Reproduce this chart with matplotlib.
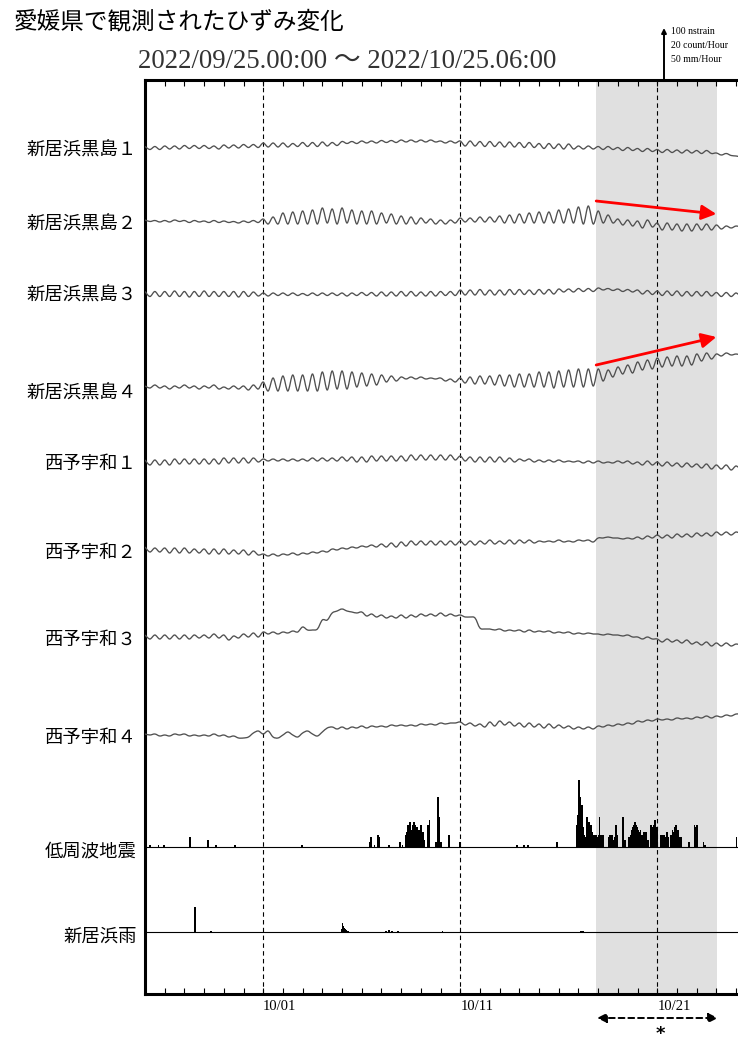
import numpy as np
import matplotlib
matplotlib.use("Agg")
import matplotlib.pyplot as plt
from matplotlib.patches import FancyArrowPatch, PathPatch
from matplotlib.path import Path

plt.rcParams['font.family'] = ['Noto Sans CJK JP', 'DejaVu Sans']

# ---------------------------------------------------------------- data
# Time axis: days since 2022/09/25 00:00, strain sampled every 6 hours
T_END = 30.25
STEP = 0.25

# Strain (nstrain, relative to start of window), 4 samples per day
kurosima1 = [
    3, -3, 3, -3,  4, -2, 4, -2,  5, -1, 5, -1,  5, -1, 4, -2,  6, 0, 6, 0,
    7, 1, 7, 1,  10, 2, 10, 2,  10, 2, 9, 3,  11, 3, 11, 3,  12, 4, 11, 5,
    13, 9, 13, 9,  14, 10, 14, 10,  15, 11, 15, 11,  16, 12, 16, 12,  16, 12, 16, 12,
    14, 10, 14, 10,  14, 4, 14, 4,  13, 3, 13, 3,  12, 2, 12, 2,  11, 1, 11, 1,
    9, -1, 9, -1,  8, -2, 8, -2,  4, -2, 4, -2,  3, -3, 3, -3,  1, -5, 1, -5,
    -1, -7, -1, -7,  -3, -9, -3, -9,  -4, -10, -4, -10,  -5, -11, -5, -11,  -10, -14, -11, -15,
    -16, -18]
kurosima2 = [
    2, -1, 1, -2,  1, -2, 2, -1,  1, -3, 1, -2,  0, -3, 1, -3,  0, -3, -1, -4,
    0, -3, 1, -3,  4, -6, 8, -6,  16, -6, 18, -6,  20, -6, 22, -6,  26, -4, 24, -6,
    26, -4, 22, -6,  20, -6, 20, -6,  16, -4, 14, -6,  10, -6, 8, -6,  6, -4, 4, -6,
    2, -6, 2, -4,  6, -2, 6, -2,  8, -2, 8, -2,  10, -4, 12, -4,  14, -4, 16, -4,
    18, -4, 18, -4,  22, -4, 24, -4,  28, -6, 30, -6,  20, -4, 12, -4,  4, -8, 2, -10,
    0, -14, 2, -12,  -4, -18, -4, -18,  -6, -20, -6, -20,  -6, -18, -6, -18,  -8, -16, -10, -14,
    -10, -12]
kurosima3 = [
    5, -5, 5, -5,  5, -5, 6, -5,  5, -6, 5, -5,  6, -5, 5, -5,  5, -5, 5, -6,
    5, -5, 4, -4,  2, -4, 2, -3,  2, -3, 2, -3,  1, -3, 2, -3,  2, -3, 2, -3,
    2, -4, 2, -3,  3, -3, 3, -4,  4, -4, 4, -4,  5, -4, 5, -4,  4, -4, 5, -4,
    5, -3, 5, -3,  8, -2, 8, -2,  9, -2, 8, -2,  8, -2, 9, -1,  9, -1, 8, -1,
    9, 0, 9, 0,  10, 4, 10, 4,  11, 5, 11, 5,  12, 8, 11, 7,  10, 5, 9, 4,
    8, 0, 7, -1,  6, -3, 6, -3,  6, -4, 5, -4,  5, -4, 5, -4,  3, -5, 3, -5,
    2, -6]
kurosima4 = [
    2, -2, 4, -2,  2, -4, 2, -2,  4, -2, 2, -4,  2, -2, 4, -4,  0, -4, 2, -4,
    2, -6, 4, -4,  10, -8, 18, -8,  22, -8, 24, -8,  24, -8, 26, -8,  30, -6, 32, -4,
    32, -4, 30, 0,  28, 2, 26, 4,  24, 10, 22, 12,  20, 16, 20, 16,  20, 16, 18, 16,
    18, 12, 16, 10,  18, 8, 20, 6,  22, 6, 22, 4,  24, 2, 24, 0,  26, 0, 26, 0,
    30, 0, 30, -2,  32, 0, 34, 0,  36, 0, 36, 2,  36, 12, 34, 20,  40, 26, 44, 28,
    50, 34, 54, 36,  58, 40, 60, 42,  62, 42, 62, 44,  66, 52, 68, 56,  66, 62, 68, 64,
    66, 64]
seiyo1 = [
    4, -6, 4, -6,  4, -6, 6, -4,  6, -4, 6, -4,  6, -4, 6, -4,  8, -2, 8, -2,
    8, -2, 8, 0,  6, 2, 6, 2,  6, 2, 6, 2,  6, 2, 8, 2,  8, 2, 8, 2,
    10, 2, 10, 0,  10, 0, 12, 2,  12, 2, 12, 2,  12, 2, 14, 4,  14, 4, 14, 4,
    14, 4, 14, 4,  12, 2, 10, 0,  10, 0, 10, 0,  10, 0, 8, 0,  6, 2, 6, 0,
    4, 0, 4, 0,  4, 0, 2, 0,  2, -2, 2, -2,  2, -2, 0, -2,  2, -2, 2, -4,
    0, -6, 2, -6,  0, -8, 0, -8,  -2, -10, -2, -10,  -4, -12, -4, -14,  -6, -14, -6, -16,
    -8, -16]
seiyo2 = [
    6, -4, 4, -4,  4, -6, 4, -6,  4, -6, 2, -6,  2, -8, 2, -8,  2, -8, 0, -8,
    0, -10, -2, -10,  -8, -12, -8, -12,  -8, -10, -6, -10,  -6, -8, -4, -6,  -2, -4, 2, 0,
    4, 2, 6, 4,  8, 6, 10, 6,  12, 6, 14, 6,  16, 8, 18, 10,  18, 10, 18, 10,
    18, 10, 18, 10,  18, 10, 18, 10,  18, 12, 20, 12,  18, 12, 20, 12,  20, 14, 20, 14,
    18, 16, 18, 16,  20, 16, 18, 16,  20, 18, 20, 16,  24, 24, 26, 24,  24, 22, 24, 22,
    26, 22, 28, 24,  30, 24, 30, 24,  32, 26, 32, 26,  34, 28, 34, 28,  36, 30, 36, 30,
    36, 32]
seiyo3 = [
    4, -4, 4, -4,  4, -4, 4, -4,  4, -4, 4, -2,  4, -2, 6, -2,  4, -6, 2, -2,
    6, 0, 8, 0,  10, 6, 10, 6,  10, 8, 12, 10,  20, 14, 14, 16,  34, 34, 48, 52,
    56, 52, 50, 48,  50, 42, 46, 40,  44, 38, 42, 38,  44, 38, 44, 40,  46, 42, 46, 42,
    48, 42, 46, 42,  44, 40, 40, 38,  18, 16, 16, 14,  16, 12, 14, 12,  14, 10, 14, 10,
    12, 10, 12, 8,  10, 8, 10, 6,  8, 6, 8, 6,  6, 4, 6, 4,  4, 2, 4, 0,
    0, -4, 0, -4,  -4, -10, -4, -10,  -6, -12, -6, -14,  -10, -16, -10, -18,  -12, -18, -12, -18,
    -14, -16]
seiyo4 = [
    2, 0, 2, -2,  0, -2, 2, 0,  2, -2, 0, -2,  0, -2, 2, -2,  0, -4, -2, -6,
    -6, -4, 4, 8,  2, 8, -4, -6,  0, 6, 0, -4,  4, 8, 2, -2,  6, 14, 16, 12,
    16, 12, 16, 14,  18, 14, 18, 16,  18, 16, 20, 18,  20, 18, 20, 18,  22, 20, 22, 20,
    24, 22, 24, 24,  26, 20, 24, 18,  22, 16, 26, 18,  28, 20, 26, 18,  24, 16, 24, 16,
    22, 14, 22, 14,  20, 14, 18, 12,  16, 12, 16, 12,  18, 16, 20, 18,  22, 20, 24, 22,
    28, 26, 30, 28,  32, 30, 32, 30,  34, 32, 34, 32,  36, 34, 38, 34,  38, 36, 40, 38,
    42, 42]

strain_labels = ["新居浜黒島１", "新居浜黒島２", "新居浜黒島３", "新居浜黒島４",
                 "西予宇和１", "西予宇和２", "西予宇和３", "西予宇和４"]
strain_series = [kurosima1, kurosima2, kurosima3, kurosima4,
                 seiyo1, seiyo2, seiyo3, seiyo4]

# Low-frequency earthquakes: (hour since start, count/hour)
lfe_hour = [6, 16, 23, 54, 76, 86, 109, 191,
            273, 275, 279, 283, 285, 297, 310, 313,
            317, 318, 319, 320, 321, 322, 323, 324, 325, 326, 327, 328, 329, 330,
            331, 332, 333, 334, 335, 336, 337, 338, 339, 340,
            344, 345, 346, 354, 356, 357, 358, 360, 370, 383,
            453, 461, 466, 501,
            526, 527, 528, 529, 530, 531, 532, 533, 534, 536, 538, 539, 540, 541, 542, 543,
            544, 545, 547, 549, 550, 552, 553, 555, 557,
            564, 565, 566, 567, 568, 570, 572, 573, 575,
            582, 584, 589, 590, 591, 592, 593, 594, 595, 596, 597, 598, 599, 600, 601,
            603, 605, 607, 608, 610, 612, 616, 617, 618, 619, 620, 621, 622, 623,
            628, 629, 630, 632, 633, 635, 637, 640, 642, 643, 644, 645, 646, 648, 649,
            651, 653, 662, 669, 670, 672, 680, 682, 720]
lfe_count = [1, 1, 1, 4, 3, 1, 1, 1,
             2, 4, 1, 5, 4, 1, 2, 1,
             5, 4, 6, 9, 7, 10, 8, 7, 6, 9, 10, 8, 9, 7,
             8, 7, 6, 7, 5, 9, 6, 6, 3, 3,
             9, 6, 11, 2, 20, 8, 12, 2, 5, 2,
             1, 1, 1, 2,
             9, 13, 27, 20, 19, 17, 17, 8, 5, 4, 12, 10, 10, 10, 8, 9,
             6, 5, 5, 5, 4, 5, 12, 5, 5,
             4, 3, 5, 4, 5, 3, 4, 9, 5,
             12, 3, 4, 3, 5, 6, 7, 8, 9, 10, 9, 9, 8, 7, 6,
             7, 5, 6, 4, 6, 3, 9, 7, 8, 9, 10, 11, 8, 7,
             5, 4, 5, 5, 4, 6, 4, 5, 7, 6, 6, 8, 9, 7, 7,
             4, 4, 2, 9, 8, 9, 2, 1, 4]

# Niihama rainfall: (hour since start, mm/hour)
rain_hour = [60, 80, 239, 240, 241, 242, 243, 244, 245, 246, 247, 293, 297, 300, 308, 362,
             531, 533, 535, 726]
rain_mm = [25, 1.5, 3, 9, 6, 4, 3, 2, 2, 1.5, 1, 1.5, 2.5, 1.5, 1, 1.5,
           1, 1, 0.5, 1]

date_labels = {6: "10/01", 16: "10/11", 26: "10/21"}
period_text = "2022/09/25.00:00 〜 2022/10/25.06:00"
title_text = "愛媛県で観測されたひずみ変化"
scale_texts = ["100 nstrain", "20 count/Hour", "50 mm/Hour"]
shade_span = (22.9, 29.05)

# ---------------------------------------------------------------- layout
W_PX, H_PX = 738, 1044
DPI = 100
AX_L, AX_R = 145, 741          # figure pixel columns of the time range
AX_TOP, AX_BOT = 80, 994       # figure pixel rows of the plot frame
UNITS_PER_PX = 2.0             # nstrain per pixel (100 nstrain bar = 50 px)
STRAIN_ROWS = [148, 221, 294, 387, 462, 550, 637, 735]
LFE_ROW, RAIN_ROW = 847, 932
LABEL_ROWS = [151, 225, 296, 394, 464, 553, 640, 738]
COUNT_UNITS = 100 / 20         # 20 count/hour drawn as 100 units
RAIN_UNITS = 100 / 50          # 50 mm/hour drawn as 100 units
BAR_W = 0.085                  # drawn bar width in days


def row_to_units(row):
    return (AX_BOT - row) * UNITS_PER_PX


def smooth_path(x, y):
    """Catmull-Rom curve through every sample, as cubic Bezier segments."""
    pts = np.column_stack([x, y]).astype(float)
    ext = np.vstack([pts[0], pts, pts[-1]])
    verts = [pts[0]]
    codes = [Path.MOVETO]
    for i in range(len(pts) - 1):
        p0, p1, p2, p3 = ext[i], ext[i + 1], ext[i + 2], ext[i + 3]
        verts += [p1 + (p2 - p0) / 6.0, p2 - (p3 - p1) / 6.0, p2]
        codes += [Path.CURVE4] * 3
    return Path(verts, codes)


fig = plt.figure(figsize=(W_PX / DPI, H_PX / DPI), dpi=DPI)
ax = fig.add_axes([AX_L / W_PX, (H_PX - AX_BOT) / H_PX,
                   (AX_R - AX_L) / W_PX, (AX_BOT - AX_TOP) / H_PX])
ax.set_xlim(0, T_END)
ax.set_ylim(0, (AX_BOT - AX_TOP) * UNITS_PER_PX)

ax.axvspan(*shade_span, color="#e0e0e0", lw=0, zorder=0)
for d in date_labels:
    ax.axvline(d, color="black", lw=0.8, ls=(0, (4, 3)), zorder=1)

t = np.arange(len(kurosima1)) * STEP
for vals, row in zip(strain_series, STRAIN_ROWS):
    path = smooth_path(t, np.asarray(vals) + row_to_units(row))
    ax.add_patch(PathPatch(path, facecolor="none", edgecolor="#505050", lw=0.95, zorder=3))

# event histograms
lfe_t = (np.asarray(lfe_hour) + 0.5) / 24.0
ax.bar(lfe_t, np.asarray(lfe_count) * COUNT_UNITS, width=BAR_W,
       bottom=row_to_units(LFE_ROW), color="black", lw=0, zorder=3)
ax.axhline(row_to_units(LFE_ROW), color="black", lw=0.8, zorder=2)
rain_t = (np.asarray(rain_hour) + 0.5) / 24.0
ax.bar(rain_t, np.asarray(rain_mm) * RAIN_UNITS, width=BAR_W,
       bottom=row_to_units(RAIN_ROW), color="black", lw=0, zorder=3)
ax.axhline(row_to_units(RAIN_ROW), color="black", lw=0.8, zorder=2)

# red trend arrows
for (x0, r0), (x1, r1) in [((22.9, 201), (29.0, 214)), ((22.9, 365), (29.0, 337))]:
    ax.add_patch(FancyArrowPatch((x0, row_to_units(r0)), (x1, row_to_units(r1)),
                                 arrowstyle="-|>", mutation_scale=22, color="#ff0000",
                                 lw=2.0, shrinkA=0, shrinkB=0, zorder=5))

# frame and ticks
for side in ("left", "top", "bottom"):
    ax.spines[side].set_linewidth(2.2)
ax.spines["right"].set_visible(False)
ax.set_yticks([])
days = np.arange(0, 31)
ax.set_xticks(days)
ax.set_xticklabels([date_labels.get(int(d), "") for d in days],
                   family=["Liberation Serif"], fontsize=10.5)
for lbl in ax.get_xticklabels():
    lbl.set_horizontalalignment("left")
ax.tick_params(axis="x", direction="in", length=4, width=0.8, top=True, pad=4)

# series labels
for text, row in zip(strain_labels + ["低周波地震", "新居浜雨"],
                     LABEL_ROWS + [LFE_ROW + 5, RAIN_ROW + 5]):
    fig.text(137 / W_PX, 1 - row / H_PX, text, ha="right", va="center", fontsize=13.2)

# titles
fig.text(14 / W_PX, 1 - 22 / H_PX, title_text, ha="left", va="center", fontsize=17)
fig.text(138 / W_PX, 1 - 61 / H_PX, period_text, ha="left", va="center", fontsize=19.3,
         family=["Liberation Serif", "Noto Sans CJK JP"], color="#333333")

# scale bar
fig.add_artist(FancyArrowPatch((664 / W_PX, 1 - 79 / H_PX), (664 / W_PX, 1 - 28 / H_PX),
                               transform=fig.transFigure, arrowstyle="-|>",
                               mutation_scale=7, color="black", lw=1.4,
                               shrinkA=0, shrinkB=0))
for i, s in enumerate(scale_texts):
    fig.text(671 / W_PX, 1 - (32 + 13.5 * i) / H_PX, s, ha="left", va="center",
             fontsize=7, family=["Liberation Serif"])

# period marker below the axis
fig.add_artist(FancyArrowPatch((597 / W_PX, 1 - 1018 / H_PX), (718 / W_PX, 1 - 1018 / H_PX),
                               transform=fig.transFigure, arrowstyle="<|-|>",
                               mutation_scale=14, color="black", lw=1.4,
                               linestyle=(0, (3, 2)), shrinkA=0, shrinkB=0))
fig.text(660 / W_PX, 1 - 1034 / H_PX, "*", ha="center", va="center", fontsize=13,
         fontweight="bold", family=["DejaVu Sans"])

fig.savefig("out.png", dpi=DPI)
